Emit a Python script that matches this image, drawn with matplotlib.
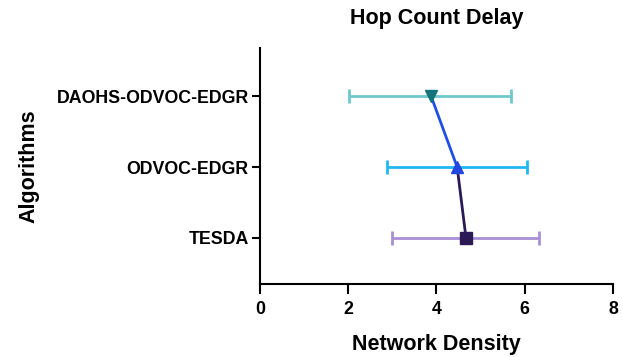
import numpy as np
import matplotlib
matplotlib.use('Agg')
from matplotlib import pyplot as plt

plt.rcParams['font.family'] = ['Liberation Sans', 'DejaVu Sans']
plt.rcParams['font.weight'] = 'bold'

# data
algorithms = ['TESDA', 'ODVOC-EDGR', 'DAOHS-ODVOC-EDGR']
mean_density = [4.67, 4.47, 3.88]
err_low = [2.99, 2.88, 2.02]
err_high = [6.33, 6.05, 5.69]

bar_colors = ['#A88FD6', '#21B8F2', '#6EC8CC']
marker_colors = ['#2B1A55', '#2247E0', '#15737A']
markers = ['s', '^', 'v']
line_colors = ['#2B1A55', '#1F4FE5']

ypos = np.arange(1, len(algorithms) + 1)

fig = plt.figure(figsize=(6.23, 3.57), dpi=100)
ax = fig.add_axes([0.417, 0.2045, 0.567, 0.661])

# connecting line between means
for i in range(len(ypos) - 1):
    ax.plot(mean_density[i:i + 2], ypos[i:i + 2], '-', color=line_colors[i], lw=2, zorder=2)

for i in range(len(algorithms)):
    xerr = [[mean_density[i] - err_low[i]], [err_high[i] - mean_density[i]]]
    ax.errorbar(mean_density[i], ypos[i], xerr=xerr, fmt='none', ecolor=bar_colors[i],
                elinewidth=2, capsize=5, capthick=2, zorder=1)
    ax.plot(mean_density[i], ypos[i], marker=markers[i], color=marker_colors[i],
            markersize=8.5, ls='none', zorder=3)

ax.set_xlim(0, 8)
ax.set_ylim(0.35, 3.68)
ax.set_xticks([0, 2, 4, 6, 8])
ax.set_yticks(ypos)
ax.set_yticklabels(algorithms)
ax.spines['top'].set_visible(False)
ax.spines['right'].set_visible(False)
ax.spines['left'].set_linewidth(1.5)
ax.spines['bottom'].set_linewidth(1.5)
ax.tick_params(width=1.5, labelsize=12.8)
ax.tick_params(axis='x', length=7, pad=5)
ax.tick_params(axis='y', length=6, pad=2)
ax.set_xlabel('Network Density', fontsize=15.5, fontweight='bold', labelpad=12)
ax.set_ylabel('Algorithms', fontsize=15.5, fontweight='bold', labelpad=12)
ax.set_title('Hop Count Delay', fontsize=15.5, fontweight='bold', pad=17)

plt.savefig('out.png', dpi=100)
plt.close()
